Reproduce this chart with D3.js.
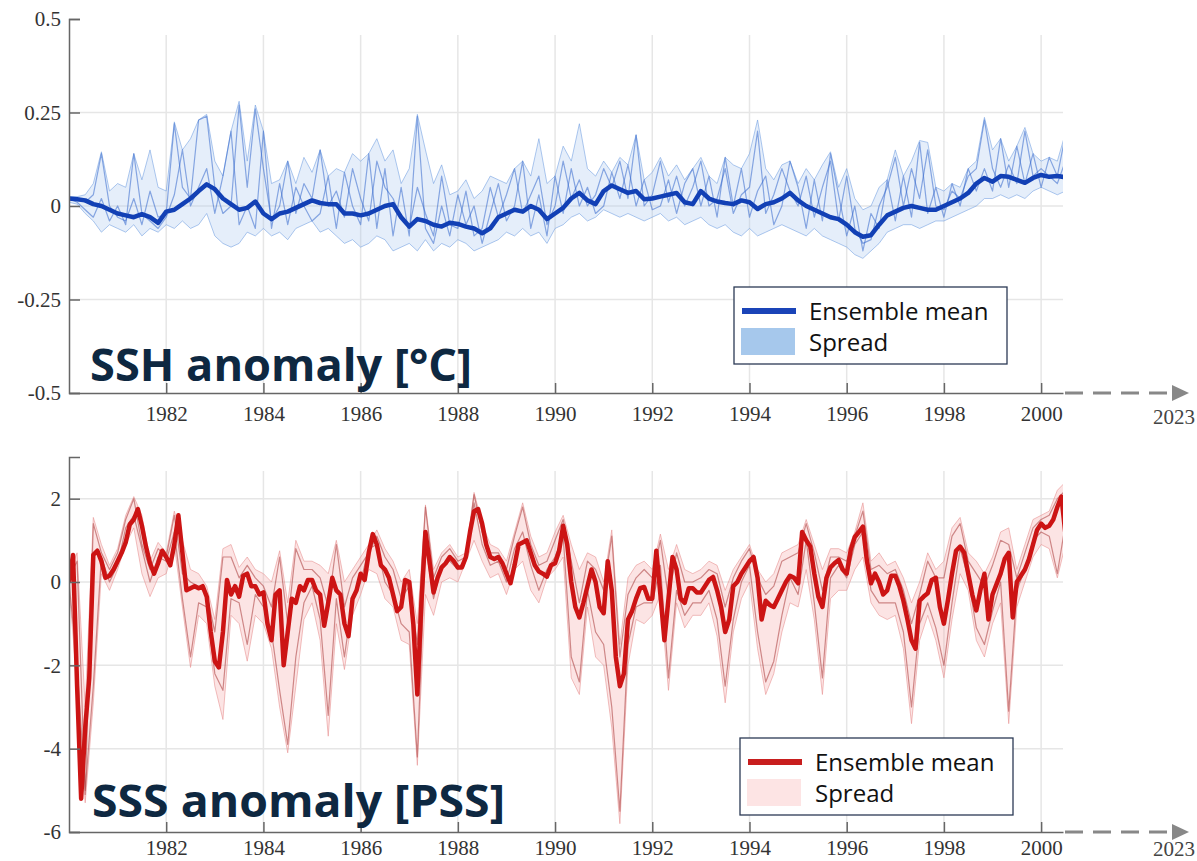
<!DOCTYPE html>
<html lang="en">
<head>
  <meta charset="UTF-8">
  <title>SSH and SSS anomaly</title>
  <script src="https://d3js.org/d3.v7.min.js"></script>
  <style>
    body { margin: 0; background: #fff; }
    svg { display: block; }
    .tick text { font-family: 'Liberation Serif', serif; font-size: 21px; fill: #333; }
    .axis path, .axis line { stroke: #666; stroke-width: 1.5; }
    .grid line { stroke: #e6e6e6; stroke-width: 1.5; }
    .title { font-family: 'Open Sans', sans-serif; font-weight: 700; font-size: 45px; fill: #0e2841; }
    .legend text { font-family: 'Open Sans', sans-serif; font-size: 24px; fill: #111; }
    .far { font-family: 'Liberation Serif', serif; font-size: 21px; fill: #444; }
  </style>
</head>
<body>
<svg width="1197" height="861"></svg>
<script>
// time axis: series start in 1980, every 2 months (SSS mean: monthly)
const startYear = 1980;
const xTicks = [1982, 1984, 1986, 1988, 1990, 1992, 1994, 1996, 1998, 2000];
const sshTicks = [-0.5, -0.25, 0, 0.25, 0.5];
const sssTicks = [-6, -4, -2, 0, 2];

// SSH, 2-month steps
const sshMean = [
  0.02, 0.018, 0.015, 0.005, 0.0, -0.01,
  -0.02, -0.025, -0.03, -0.022, -0.03, -0.045,
  -0.015, -0.01, 0.005, 0.02, 0.04, 0.058,
  0.045, 0.02, 0.005, -0.01, -0.005, 0.012,
  -0.02, -0.035, -0.02, -0.015, -0.005, 0.005,
  0.015, 0.008, 0.005, 0.005, -0.02, -0.02,
  -0.025, -0.02, -0.01, 0.0, 0.005, -0.03,
  -0.055, -0.035, -0.04, -0.05, -0.055, -0.045,
  -0.048, -0.055, -0.06, -0.073, -0.06, -0.03,
  -0.02, -0.01, -0.015, 0.0, -0.01, -0.035,
  -0.02, -0.005, 0.02, 0.035, 0.015, 0.005,
  0.04, 0.055, 0.045, 0.035, 0.04, 0.018,
  0.02, 0.025, 0.03, 0.035, 0.01, 0.005,
  0.04, 0.02, 0.012, 0.008, 0.005, 0.015,
  0.01, -0.008, 0.005, 0.01, 0.02, 0.035,
  0.015, 0.0, -0.01, -0.02, -0.03, -0.035,
  -0.05, -0.07, -0.082, -0.078, -0.05, -0.025,
  -0.015, -0.005, 0.0, -0.005, -0.01, -0.01,
  0.0, 0.01, 0.02, 0.035, 0.06, 0.075,
  0.065, 0.08, 0.078, 0.07, 0.062, 0.075,
  0.083, 0.078, 0.08, 0.077
];
const sshLow = [
  0.01, 0.005, -0.02, -0.04, -0.07, -0.05,
  -0.06, -0.07, -0.05, -0.08, -0.06, -0.07,
  -0.05, -0.06, -0.04, -0.06, -0.05, -0.02,
  -0.08, -0.1, -0.11, -0.1, -0.07, -0.08,
  -0.06, -0.08, -0.07, -0.09, -0.06, -0.05,
  -0.04, -0.07, -0.06, -0.08, -0.1, -0.09,
  -0.11, -0.1, -0.08, -0.09, -0.12, -0.11,
  -0.1, -0.12, -0.09, -0.12, -0.1, -0.11,
  -0.09, -0.1, -0.12, -0.11, -0.1, -0.09,
  -0.07, -0.08, -0.06, -0.08, -0.07, -0.1,
  -0.06, -0.05, -0.03, -0.02, -0.04, -0.03,
  -0.01, -0.02, -0.03, -0.02, -0.03, -0.04,
  -0.03, -0.02, -0.04, -0.03, -0.05, -0.04,
  -0.03, -0.05, -0.06, -0.05, -0.07, -0.08,
  -0.06, -0.08, -0.07, -0.06, -0.05, -0.06,
  -0.07, -0.08, -0.06, -0.08, -0.09, -0.1,
  -0.11, -0.13, -0.14, -0.12, -0.1, -0.07,
  -0.06, -0.05, -0.05, -0.06, -0.05, -0.04,
  -0.04, -0.03, -0.02, -0.01, 0.0, 0.02,
  0.02, 0.03, 0.02, 0.03, 0.02, 0.04,
  0.05, 0.04, 0.03, 0.04
];
const sshHigh = [
  0.025, 0.025, 0.03, 0.06, 0.145, 0.04,
  0.06, 0.05, 0.14, 0.07, 0.15, 0.05,
  0.04, 0.225, 0.15, 0.18, 0.23, 0.245,
  0.12, 0.08, 0.2, 0.28, 0.12, 0.27,
  0.2, 0.06, 0.07, 0.12, 0.06, 0.13,
  0.09, 0.15, 0.08, 0.1, 0.09, 0.14,
  0.12, 0.14, 0.18, 0.12, 0.15, 0.06,
  0.1, 0.245, 0.15, 0.06, 0.11, 0.03,
  0.04, 0.07, 0.02, 0.04, 0.08, 0.07,
  0.06, 0.1, 0.12, 0.08, 0.18, 0.06,
  0.08, 0.16, 0.12, 0.22, 0.1, 0.08,
  0.12, 0.09, 0.13, 0.11, 0.19, 0.07,
  0.09, 0.13, 0.08, 0.11, 0.07, 0.1,
  0.13, 0.08, 0.06, 0.13, 0.11, 0.1,
  0.14, 0.23, 0.1, 0.07, 0.11, 0.12,
  0.06, 0.1, 0.07, 0.11, 0.145, 0.05,
  0.1, 0.02, -0.01, 0.0, 0.05, 0.07,
  0.15, 0.08, 0.12, 0.175, 0.17, 0.05,
  0.04, 0.06, 0.05, 0.1, 0.12, 0.237,
  0.15, 0.18, 0.12, 0.16, 0.21, 0.14,
  0.12, 0.13, 0.12, 0.195
];
const sshMemberA = [
  0.02, 0.02, 0.01, 0.03, 0.14, 0.0,
  -0.03, -0.04, 0.02, -0.05, 0.04, -0.03,
  -0.02, 0.22, 0.05, 0.02, 0.23, 0.24,
  0.05, -0.02, 0.0, 0.27, 0.05, 0.26,
  0.1, -0.04, 0.0, 0.12, -0.02, 0.06,
  0.02, 0.15, 0.0, 0.04, -0.03, 0.1,
  0.02, -0.04, 0.12, 0.05, 0.02, -0.03,
  -0.06, 0.05, -0.02, -0.08, 0.08, -0.05,
  -0.06, 0.04, -0.08, -0.06, 0.05, -0.03,
  0.03, 0.1, -0.02, 0.03, 0.08, -0.05,
  0.0, 0.12, 0.02, 0.07, 0.0, 0.03,
  0.1, 0.05, 0.12, 0.02, 0.19, 0.0,
  0.03, 0.12, 0.01, 0.08, 0.0, 0.05,
  0.12, 0.0, 0.02, 0.1, -0.02, 0.03,
  0.05, 0.2, -0.02, 0.03, 0.1, 0.04,
  0.0, 0.08, -0.03, 0.05, 0.12, -0.04,
  0.08, -0.06, -0.1, -0.09, 0.0, 0.05,
  0.13, 0.0, 0.1, 0.02, 0.15, 0.0,
  -0.01, 0.04, 0.02, 0.08, 0.1, 0.23,
  0.1, 0.05, 0.11, 0.06, 0.2, 0.08,
  0.1, 0.08, 0.06, 0.12
];
const sshMemberB = [
  0.02, 0.01, -0.01, -0.03, 0.02, -0.04,
  0.0, -0.05, 0.14, -0.02, -0.04, -0.06,
  -0.03, 0.03, 0.15, 0.0, 0.05, 0.1,
  -0.02, 0.08, 0.2, -0.05, 0.0, -0.06,
  0.2, -0.06, 0.06, -0.05, 0.05, 0.0,
  -0.04, -0.02, 0.08, -0.06, 0.09, 0.0,
  -0.05, 0.14, -0.06, 0.1, -0.08, 0.05,
  -0.08, 0.24, -0.06, -0.1, 0.0, -0.08,
  0.03, -0.05, 0.0, -0.1, -0.02, 0.06,
  -0.04, 0.0, 0.12, -0.06, 0.03, -0.08,
  0.08, -0.02, 0.1, 0.0, 0.05, -0.02,
  0.0, 0.09, 0.02, 0.11, 0.0, 0.07,
  -0.01, 0.0, 0.07, -0.02, 0.06, 0.1,
  0.0, 0.08, -0.03, 0.13, 0.0, 0.1,
  -0.03, 0.04, 0.08, -0.05, 0.0, 0.12,
  0.05, -0.06, 0.07, -0.04, 0.14, 0.03,
  -0.08, 0.0, -0.12, -0.02, -0.06, 0.07,
  -0.04, 0.08, -0.03, 0.17, -0.02, 0.05,
  -0.03, 0.06, 0.0, 0.1, 0.04, 0.1,
  0.04, 0.18, 0.05, 0.16, 0.06, 0.14,
  0.05, 0.13, 0.08, 0.19
];

// SSS mean, monthly steps
const sssMean = [
  0.0, 0.65, -2.5, -5.2, -3.5, -2.3, 0.65, 0.75, 0.5, 0.1, 0.15, 0.3,
  0.5, 0.7, 0.95, 1.38, 1.5, 1.75, 1.35, 0.85, 0.45, 0.2, 0.45, 0.75,
  0.6, 0.4, 0.9, 1.6, 0.7, -0.2, -0.15, -0.1, -0.15, -0.1, -0.35, -1.2,
  -1.9, -2.05, -1.2, 0.05, -0.3, -0.1, -0.35, 0.15, 0.2, -0.1, -0.1, -0.3,
  -0.25, -1.0, -1.4, -0.3, -0.2, -2.0, -1.2, -0.4, -0.5, -0.1, -0.2, 0.05,
  0.05, -0.2, -0.3, -1.05, -0.5, 0.1, -0.2, -0.3, -1.0, -1.3, -0.4, -0.2,
  0.2, 0.05, 0.7, 1.15, 0.9, 0.4, 0.3, 0.1, -0.3, -0.7, -0.6, 0.05,
  0.0, -1.0, -2.7, -0.5, 1.2, 0.5, -0.25, 0.1, 0.35, 0.45, 0.6, 0.5,
  0.35, 0.35, 0.6, 1.2, 1.7, 1.75, 1.4, 0.9, 0.6, 0.55, 0.6, 0.45,
  0.2, -0.03, 0.4, 0.9, 0.95, 1.0, 0.7, 0.4, 0.25, 0.2, 0.13, 0.4,
  0.45, 0.75, 1.35, 0.9, 0.0, -0.6, -0.85, -0.5, -0.1, 0.3, 0.0, -0.6,
  -0.75, 0.5, -0.2, -1.8, -2.5, -2.2, -0.9, -0.7, -0.4, -0.15, -0.12, -0.4,
  -0.4, 0.75, -0.3, -1.4, -0.4, 0.6, 0.3, -0.4, -0.5, -0.15, -0.15, -0.25,
  -0.25, -0.1, 0.05, 0.12, -0.2, -0.6, -1.2, -0.9, -0.1, 0.0, 0.2, 0.35,
  0.5, 0.6, 0.1, -0.9, -0.45, -0.55, -0.6, -0.4, -0.2, 0.0, 0.15, 0.1,
  -0.03, 1.2, 1.0, 0.85, 0.2, -0.35, -0.6, 0.1, 0.35, 0.45, 0.53, 0.3,
  0.2, 0.77, 1.08, 1.2, 1.33, 0.5, -0.03, 0.2, 0.0, -0.3, -0.2, 0.15,
  0.15, -0.1, -0.45, -0.9, -1.4, -1.6, -0.45, -0.35, -0.27, 0.05, 0.1, -0.6,
  -1.0, -0.43, 0.2, 0.75, 0.85, 0.7, 0.2, -0.3, -0.68, -0.2, 0.2, -0.9,
  -0.3, -0.05, 0.2, 0.55, 0.7, -0.85, 0.0, 0.15, 0.3, 0.55, 0.9, 1.25,
  1.4, 1.3, 1.35, 1.5, 1.8, 2.05, 1.15
];
// SSS spread and members, 2-month steps
const sssLow = [
  -0.1, -2.5, -5.3, -2.9, 0.2, -0.2,
  0.3, 0.9, 1.3, 0.2, -0.35, 0.1,
  0.2, 0.9, -0.6, -2.05, -0.8, -1.0,
  -2.5, -3.3, -0.8, -1.0, -1.9, -0.8,
  -1.0, -1.6, -3.0, -4.1, -2.5, -0.9,
  -0.5, -1.4, -3.7, -1.0, -2.1, -0.8,
  -0.3, 0.3, 0.2, -0.4, -0.6, -1.4,
  -1.5, -4.4, -0.3, -0.8, 0.0, 0.1,
  0.0, 0.5, 1.0, 0.5, 0.1, 0.2,
  -0.3, 0.3, 0.5, -0.2, -0.5, 0.1,
  0.3, 0.6, -2.3, -2.7, -0.6, -1.8,
  -2.0, -3.5, -5.8, -2.0, -0.9, -1.0,
  -0.8, -0.3, -2.6, -0.5, -1.1, -0.8,
  -0.8, -0.5, -1.3, -2.9, -1.2, -0.4,
  0.0, -1.6, -2.7, -2.2, -1.2, -0.5,
  -0.6, 0.3, -0.9, -2.7, -0.4, -0.2,
  -0.2, 0.3, 0.6, -0.5, -0.8, -0.9,
  -0.8, -1.6, -3.4, -1.4, -0.8, -1.4,
  -2.3, -0.9, 0.2, -0.2, -1.4, -1.8,
  -1.0, -0.5, -3.4, -0.6, 0.0, 0.6,
  0.9, 0.8, 0.1, 0.9
];
const sssHigh = [
  0.2, 0.7, -3.0, 1.55, 0.9, 0.4,
  0.8, 1.6, 2.05, 1.6, 0.5, 0.95,
  0.7, 1.7, 1.0, 0.3, 0.2, -0.1,
  -0.9, 0.8, 0.9, 0.35, 0.6, 0.3,
  0.2, 0.0, 0.75, -0.5, 1.0, 0.5,
  0.5, 0.4, 0.2, 1.0, 0.0, 0.3,
  0.6, 0.9, 1.25, 0.8, 0.5, 0.0,
  0.3, -1.0, 1.85, 0.3, 0.7, 0.9,
  0.6, 0.7, 2.15, 1.4, 0.9, 0.8,
  0.5, 1.2, 1.9, 1.1, 0.6, 0.7,
  1.2, 1.6, 0.9, 0.3, 0.7, 0.6,
  0.0, 1.25, -1.5, 0.1, 0.4, 0.5,
  0.3, 1.15, 0.3, 0.9, 0.3, 0.2,
  0.3, 0.5, 0.4, -0.2, 0.3, 0.6,
  0.9, 0.3, 0.0, 0.2, 0.7, 0.8,
  0.9, 1.5, 0.9, 0.3, 0.8, 0.8,
  0.7, 1.2, 1.9, 0.5, 0.7, 0.4,
  0.5, 0.1, -0.5, 0.0, 0.7, 0.3,
  0.5, 1.3, 1.55, 0.7, 0.5, 0.2,
  0.6, 1.2, 1.3, 0.3, 0.9, 1.5,
  1.6, 1.7, 2.2, 2.4
];
const sssMemberA = [
  0.0, -2.0, -5.0, -2.5, 0.6, 0.0,
  0.4, 1.3, 1.6, 0.8, 0.0, 0.6,
  0.5, 1.2, -0.4, -1.8, -0.5, -0.6,
  -2.2, -2.6, -0.4, -0.5, -1.5, -0.3,
  -0.6, -1.2, -2.6, -3.9, -1.8, -0.5,
  -0.1, -0.9, -3.2, -0.4, -1.8, -0.4,
  0.0, 0.8, 0.9, 0.0, -0.3, -1.0,
  -1.2, -4.2, 0.9, -0.4, 0.4, 0.5,
  0.3, 0.6, 1.9, 0.9, 0.4, 0.5,
  0.0, 0.8, 1.2, 0.4, -0.2, 0.3,
  0.6, 1.1, -1.8, -2.4, -0.2, -1.2,
  -1.5, -3.0, -5.5, -1.5, -0.6, -0.5,
  -0.5, 0.4, -2.3, -0.2, -0.8, -0.5,
  -0.5, -0.2, -0.9, -2.5, -0.9, 0.0,
  0.4, -1.2, -2.4, -1.9, -0.8, 0.1,
  -0.3, 1.0, -0.5, -2.3, 0.1, 0.4,
  0.1, 0.9, 1.2, -0.2, -0.5, -0.5,
  -0.5, -1.2, -3.0, -1.0, -0.5, -1.1,
  -2.0, -0.5, 0.8, 0.1, -1.1, -1.5,
  -0.7, 0.0, -3.1, -0.2, 0.3, 1.0,
  1.2, 1.1, 0.2, 1.4
];
const sssMemberB = [
  0.1, 0.5, -5.1, 1.4, 0.7, 0.3,
  0.7, 1.5, 2.0, 0.9, 0.3, 0.8,
  0.6, 1.6, 0.2, 0.0, -0.1, -0.3,
  -1.2, 0.6, 0.6, 0.1, 0.4, 0.1,
  -0.1, -0.6, 0.6, -1.0, 0.8, 0.3,
  0.3, 0.1, -0.6, 0.9, -0.6, 0.1,
  0.4, 0.7, 1.1, 0.6, 0.3, -0.4,
  -0.1, -1.5, 1.8, 0.1, 0.6, 0.8,
  0.5, 0.6, 2.1, 1.2, 0.7, 0.7,
  0.3, 1.1, 1.8, 0.9, 0.4, 0.5,
  1.0, 1.5, 0.5, -0.5, 0.5, 0.3,
  -0.2, 1.1, -1.8, -0.3, 0.1, 0.3,
  0.1, 1.0, -0.4, 0.7, 0.0, 0.0,
  0.1, 0.3, 0.2, -0.6, 0.1, 0.5,
  0.8, 0.1, -0.3, -0.1, 0.5, 0.6,
  0.7, 1.4, 0.7, -0.2, 0.6, 0.6,
  0.5, 1.1, 1.7, 0.3, 0.4, 0.2,
  0.3, -0.2, -1.0, -0.3, 0.5, 0.1,
  0.1, 1.1, 1.4, 0.5, 0.2, -0.1,
  0.4, 1.0, 0.9, 0.1, 0.7, 1.3,
  1.5, 1.6, 2.0, 2.2
];

const svg = d3.select('svg');
const defs = svg.append('defs');
const x = d3.scaleLinear().domain([1980, 2000.45]).range([69, 1063]);

function drawPanel(p) {
  const y = d3.scaleLinear().domain(p.yDomain).range([p.bottom, p.top]);
  const g = svg.append('g');

  // grid
  g.append('g').attr('class', 'grid')
    .selectAll('line').data(xTicks).join('line')
    .attr('x1', d => x(d)).attr('x2', d => x(d))
    .attr('y1', p.gridTop).attr('y2', p.bottom);
  g.append('g').attr('class', 'grid')
    .selectAll('line').data(p.yTicks.filter(d => d > p.yDomain[0] && d < p.yDomain[1])).join('line')
    .attr('x1', x.range()[0]).attr('x2', x.range()[1])
    .attr('y1', d => y(d)).attr('y2', d => y(d));

  defs.append('clipPath').attr('id', p.id + '-clip')
    .append('rect')
    .attr('x', x.range()[0]).attr('y', p.top)
    .attr('width', x.range()[1] - x.range()[0]).attr('height', p.bottom - p.top);
  const plot = g.append('g').attr('clip-path', `url(#${p.id}-clip)`);

  const step6 = i => x(startYear + i / 6);
  const area = d3.area()
    .x(i => step6(i))
    .y0(i => y(p.low[i]))
    .y1(i => y(p.high[i]));
  plot.append('path')
    .datum(d3.range(p.low.length))
    .attr('d', area)
    .attr('fill', p.spreadFill)
    .attr('fill-opacity', 0.3);

  const line6 = d3.line().x((d, i) => step6(i)).y(d => y(d));
  [p.low, p.high].forEach(s => {
    plot.append('path').datum(s).attr('d', line6)
      .attr('fill', 'none').attr('stroke', p.edgeColor)
      .attr('stroke-opacity', 0.55).attr('stroke-width', 1);
  });
  p.members.forEach(s => {
    plot.append('path').datum(s).attr('d', line6)
      .attr('fill', 'none').attr('stroke', p.memberColor)
      .attr('stroke-opacity', 0.55).attr('stroke-width', 1.2)
      .attr('stroke-linejoin', 'round');
  });

  const meanLine = d3.line().x((d, i) => x(startYear + i * p.meanStep)).y(d => y(d));
  plot.append('path').datum(p.mean).attr('d', meanLine)
    .attr('fill', 'none').attr('stroke', p.meanColor)
    .attr('stroke-width', 4.5).attr('stroke-linejoin', 'round');

  // axes
  g.append('g').attr('class', 'axis')
    .attr('transform', `translate(${x.range()[0]},0)`)
    .call(d3.axisLeft(y).tickValues(p.yTicks).tickSize(-11).tickSizeOuter(-11)
      .tickPadding(8).tickFormat(d => String(d)));
  g.append('g').attr('class', 'axis')
    .attr('transform', `translate(0,${p.bottom})`)
    .call(d3.axisBottom(x).tickValues(xTicks).tickSize(-10).tickSizeOuter(0)
      .tickPadding(p.labelPad).tickFormat(d3.format('d')));

  // dashed continuation to 2023
  g.append('line')
    .attr('x1', 1065).attr('x2', 1173).attr('y1', p.bottom).attr('y2', p.bottom)
    .attr('stroke', '#888').attr('stroke-width', 3).attr('stroke-dasharray', '18,10');
  g.append('path')
    .attr('d', `M1172,${p.bottom - 8}L1189,${p.bottom}L1172,${p.bottom + 8}Z`)
    .attr('fill', '#888');
  g.append('text').attr('class', 'far')
    .attr('x', 1174).attr('y', p.bottom + p.farOffset)
    .attr('text-anchor', 'middle').text('2023');

  // title
  g.append('text').attr('class', 'title')
    .attr('x', p.titleX).attr('y', p.titleY)
    .attr('textLength', p.titleWidth).attr('lengthAdjust', 'spacingAndGlyphs')
    .text(p.title);

  // legend
  const L = p.legend;
  const lg = g.append('g').attr('class', 'legend');
  lg.append('rect')
    .attr('x', L.x).attr('y', L.y).attr('width', 273).attr('height', 77)
    .attr('fill', '#fff').attr('stroke', '#2b3a55').attr('stroke-width', 1.3);
  lg.append('line')
    .attr('x1', L.x + 8).attr('x2', L.x + 62)
    .attr('y1', L.y + 24).attr('y2', L.y + 24)
    .attr('stroke', p.legendLine).attr('stroke-width', 6);
  lg.append('rect')
    .attr('x', L.x + 7).attr('y', L.y + 41).attr('width', 54).attr('height', 27)
    .attr('fill', p.legendSwatch);
  lg.append('text').attr('x', L.x + 75).attr('y', L.y + 33).text('Ensemble mean');
  lg.append('text').attr('x', L.x + 75).attr('y', L.y + 64).text('Spread');
}

drawPanel({
  id: 'ssh', top: 19, bottom: 393, gridTop: 35, labelPad: 13.5, farOffset: 31,
  yDomain: [-0.5, 0.5], yTicks: sshTicks,
  mean: sshMean, meanStep: 1 / 6, low: sshLow, high: sshHigh,
  members: [sshMemberA, sshMemberB],
  meanColor: '#1240b5', memberColor: '#3468cc', edgeColor: '#6b9be0',
  spreadFill: '#a8c8ee',
  title: 'SSH anomaly [°C]', titleX: 90, titleY: 381, titleWidth: 382,
  legend: { x: 734, y: 287 }, legendLine: '#1a44b8', legendSwatch: '#a6c8ec'
});

drawPanel({
  id: 'sss', top: 457, bottom: 832, gridTop: 471, labelPad: 8.5, farOffset: 24,
  yDomain: [-6, 3], yTicks: sssTicks,
  mean: sssMean, meanStep: 1 / 12, low: sssLow, high: sssHigh,
  members: [sssMemberA, sssMemberB],
  meanColor: '#cc1414', memberColor: '#a83838', edgeColor: '#e58a8a',
  spreadFill: '#f4a6a6',
  title: 'SSS anomaly [PSS]', titleX: 92, titleY: 817, titleWidth: 413,
  legend: { x: 740, y: 738 }, legendLine: '#c81e1e', legendSwatch: '#fde4e4'
});
</script>
</body>
</html>
